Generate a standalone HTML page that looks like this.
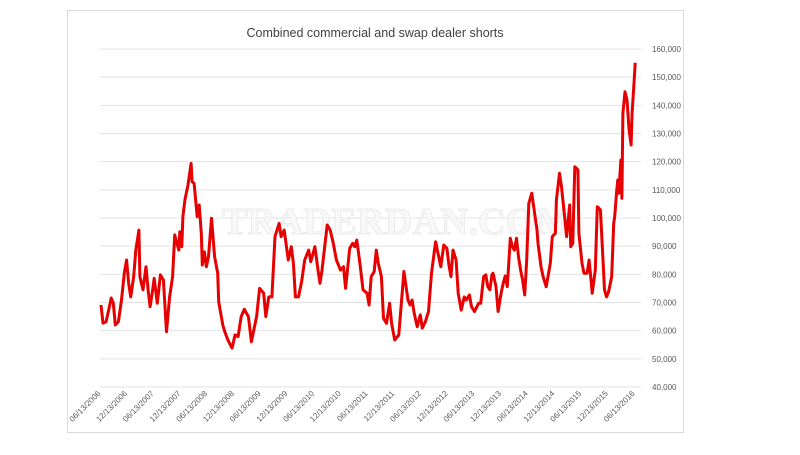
<!DOCTYPE html>
<html><head><meta charset="utf-8"><style>
html,body{margin:0;padding:0;background:#fff;}
body{width:800px;height:450px;overflow:hidden;font-family:"Liberation Sans",sans-serif;}
</style></head><body>
<svg id="chart" width="800" height="450" xmlns="http://www.w3.org/2000/svg">
<rect x="67.5" y="10.5" width="616" height="422" fill="#fff" stroke="#d9d9d9"/>
<text x="375" y="37" text-anchor="middle" font-size="12.5" fill="#404040" font-family="Liberation Sans, sans-serif">Combined commercial and swap dealer shorts</text>
<g id="grid"></g>
<text x="222" y="234" font-size="38" font-family="Liberation Serif, serif" font-weight="bold" fill="#f8f8f8" stroke="#ebebeb" stroke-width="1" textLength="350" lengthAdjust="spacingAndGlyphs">TRADERDAN.COM</text>
<g id="ylabels"></g>
<g id="xlabels"></g>
<g id="series"></g>
</svg>
<script>
const yTicks=[40,50,60,70,80,90,100,110,120,130,140,150,160];
const xTickLabels=["06/13/2006","12/13/2006","06/13/2007","12/13/2007","06/13/2008","12/13/2008","06/13/2009","12/13/2009","06/13/2010","12/13/2010","06/13/2011","12/13/2011","06/13/2012","12/13/2012","06/13/2013","12/13/2013","06/13/2014","12/13/2014","06/13/2015","12/13/2015","06/13/2016"];
// weeks since 06/13/2006
const weeks=[0,2,5,9,10,12,14,17,20,23,25,27,29,32,34,37,38,41,44,46,48,50,52,55,58,59,61,64,67,70,72,76,77,79,80,82,85,88,89,91,94,96,98,99,101,103,105,108,111,114,115,119,121,124,128,131,134,137,140,144,147,152,155,159,161,164,167,170,174,176,179,183,186,188,190,193,196,199,203,205,209,212,214,216,221,224,227,230,234,237,239,243,246,248,250,253,256,260,262,264,267,269,271,274,276,279,282,284,287,291,293,296,300,302,304,306,309,312,314,317,320,323,327,330,332,335,338,340,342,344,347,349,352,355,357,360,362,365,369,371,374,376,378,380,382,383,386,388,391,393,395,397,400,402,404,406,408,410,412,414,416,418,421,423,426,427,430,432,435,439,441,444,445,448,450,453,455,458,459,461,463,466,467,470,472,475,477,479,480,483,485,488,490,492,494,496,499,501,502,504,505,506,507,508,509,510,512,514,516,518,519,521,522];
// shorts, thousands of contracts
const shorts=[69.1,62.7,63.2,69.8,71.6,69.8,62,63.2,70.9,81,85.1,77,72,79.2,88.6,95.7,79.2,74.5,82.7,74.5,68.5,73.3,78.6,69.7,79.8,79.2,78,59.6,72,79.2,94,88.6,95.1,89.8,100.5,106.4,111.7,119.4,112.9,112.3,100.5,104.6,94.6,83.3,88,82.7,86.3,99.9,86.3,80.4,70.3,62,59.6,56.7,53.8,58.5,57.9,65,67.6,65,56.1,65,75,73.3,65,72,72,93.4,98.1,93.4,95.7,85.1,89.8,83.9,72,72,77.4,85.1,88.6,84.5,89.8,81.5,76.8,81.5,97.5,95.7,91,85.1,81.5,82.7,75,89.2,91,89.8,92.2,83.9,74.5,73.3,69.1,79.2,81,88.6,83.9,79.2,64.4,62.6,69.7,62.6,56.7,58.5,67.3,81,70.9,69.1,70.9,66.2,61.4,65.6,60.9,63.2,66.8,80.4,91.6,86.3,82.7,90.4,89.2,83.3,79.2,88.6,85.1,73.3,67.3,72,70.9,72.7,68.5,66.8,69.7,69.7,79.2,79.8,75.6,74.5,79.8,80.4,75.6,66.8,73.3,76.8,79.4,75.6,92.8,89.8,88.6,92.8,86.3,81.5,78,72.7,85.1,105.2,108.8,103.5,95.7,91,82.7,79.2,75.6,83.9,93.4,94.6,106.4,115.9,111.1,100.5,93.4,104.6,89.8,91,118.2,117.1,94.6,83.9,80.4,80.4,85.1,77.4,73.3,81.5,104,102.9,88.6,74.5,72,73.8,79.2,98.1,100.5,110,113.5,108.8,114.7,120.6,107,137.2,144.8,141.9,131.2,125.9,137.2,149,155.1];

const NS="http://www.w3.org/2000/svg";
const X0=101,X1=635.2,W_MAX=522,Y0=387,Y1=49,V0=40,V1=160;
function xScale(w){return X0+(w/W_MAX)*(X1-X0);}
function yScale(v){return Y0-(v-V0)/(V1-V0)*(Y0-Y1);}
function xTickPos(i){return X0+i*(X1-X0)/(xTickLabels.length-1);}

const grid=document.getElementById('grid');
const yl=document.getElementById('ylabels');
yTicks.forEach(v=>{
  const l=document.createElementNS(NS,'line');
  
  
  l.setAttribute('x1',100);l.setAttribute('x2',641);
  l.setAttribute('y1',yScale(v));l.setAttribute('y2',yScale(v));
  l.setAttribute('stroke','#e3e3e3');l.setAttribute('stroke-width','1');
  grid.appendChild(l);
  const t=document.createElementNS(NS,'text');
  
  
  t.setAttribute('x',652);t.setAttribute('y',yScale(v)+3);
  t.setAttribute('font-size','8');t.setAttribute('fill','#595959');
  t.textContent=(v*1000).toLocaleString('en-US');
  yl.appendChild(t);
});
const xl=document.getElementById('xlabels');
xTickLabels.forEach((s,i)=>{
  const t=document.createElementNS(NS,'text');
  
  
  const x=xTickPos(i),y=394;
  t.setAttribute('x',x);t.setAttribute('y',y);
  t.setAttribute('text-anchor','end');
  t.setAttribute('font-size','8');t.setAttribute('fill','#595959');
  t.setAttribute('transform','rotate(-45 '+x+' '+y+')');
  t.textContent=s;
  xl.appendChild(t);
});
const p=document.createElementNS(NS,'polyline');


p.setAttribute('points',weeks.map((w,i)=>xScale(w).toFixed(1)+','+yScale(shorts[i]).toFixed(1)).join(' '));
p.setAttribute('fill','none');p.setAttribute('stroke','#e60000');
p.setAttribute('stroke-width','3');p.setAttribute('stroke-linejoin','round');
document.getElementById('series').appendChild(p);
</script>
</body></html>
